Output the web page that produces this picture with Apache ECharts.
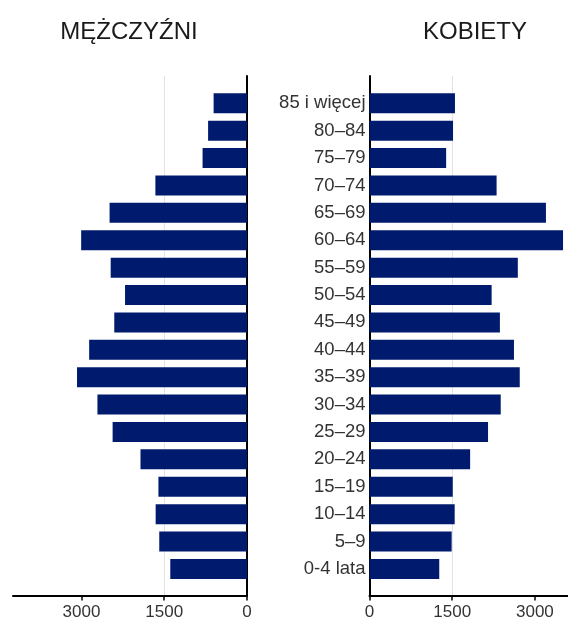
<!DOCTYPE html>
<html>
<head>
<meta charset="utf-8">
<script src="https://cdn.jsdelivr.net/npm/echarts@6/dist/echarts.min.js"></script>
<style>
html,body{margin:0;padding:0;background:#fff;}
#chart{width:568px;height:621px;}
</style>
</head>
<body>
<div id="chart"></div>
<script>
// Age groups, youngest first (bottom of the pyramid)
var ageGroups = ['0-4 lata','5–9','10–14','15–19','20–24','25–29','30–34','35–39','40–44','45–49','50–54','55–59','60–64','65–69','70–74','75–79','80–84','85 i więcej'];
var men   = [1390,1590,1655,1605,1930,2435,2710,3080,2860,2405,2210,2470,3005,2490,1660,805,705,605];
var women = [1265,1490,1545,1510,1825,2150,2380,2725,2620,2365,2215,2690,3510,3200,2305,1390,1515,1550];
var tickValues = [0,1500,3000];
var titles = ['MĘŻCZYŹNI','KOBIETY'];
var menMax = 4240, womenMax = 3600;

var barColor = '#001a6e';
var font = 'Liberation Sans, Arial, sans-serif';

var chart = echarts.init(document.getElementById('chart'), null, {renderer:'canvas'});

var axisX = function(gridIndex, max, inverse){
  return {
    type:'value', gridIndex:gridIndex, min:0, max:max, interval:1500, inverse:inverse,
    axisLine:{show:true, onZero:false, lineStyle:{color:'#000', width:2}},
    axisTick:{show:true, inside:false, length:5, customValues:tickValues, lineStyle:{color:'#000', width:1.5}},
    axisLabel:{show:true, customValues:tickValues, margin:8, fontSize:17, color:'#333', fontFamily:font,
               formatter:function(v){ return String(v); }},
    splitLine:{show:true, showMaxLine:false, showMinLine:false, lineStyle:{color:'#e3e3e3', width:1}}
  };
};
var hiddenX = function(gridIndex, max, inverse){
  return {type:'value', gridIndex:gridIndex, min:0, max:max, inverse:inverse, show:false};
};

var option = {
  backgroundColor:'#fff',
  animation:false,
  title:[
    {text:titles[0], left:124, top:15, textAlign:'center', textStyle:{fontSize:24, fontWeight:'normal', color:'#1a1a1a', fontFamily:font}},
    {text:titles[1], left:470, top:15, textAlign:'center', textStyle:{fontSize:24, fontWeight:'normal', color:'#1a1a1a', fontFamily:font}}
  ],
  grid:[
    {left:13, right:321, top:76, height:519.5},
    {left:369.5, right:0, top:76, height:519.5},
    {left:13, right:321, top:89.6, height:493},
    {left:369.5, right:0, top:89.6, height:493}
  ],
  xAxis:[
    axisX(0, menMax, true),
    axisX(1, womenMax, false),
    hiddenX(2, menMax, true),
    hiddenX(3, womenMax, false)
  ],
  yAxis:[
    {type:'value', gridIndex:0, min:0, max:1, position:'right',
     axisLine:{show:true, onZero:false, lineStyle:{color:'#000', width:2}},
     axisTick:{show:false}, axisLabel:{show:false}, splitLine:{show:false}},
    {type:'value', gridIndex:1, min:0, max:1, position:'left',
     axisLine:{show:true, onZero:false, lineStyle:{color:'#000', width:2}},
     axisTick:{show:false}, axisLabel:{show:false}, splitLine:{show:false}},
    {type:'category', gridIndex:2, data:ageGroups, position:'right',
     axisLine:{show:false}, axisTick:{show:false}, axisLabel:{show:false}, splitLine:{show:false}},
    {type:'category', gridIndex:3, data:ageGroups, position:'left',
     axisLine:{show:false}, axisTick:{show:false},
     axisLabel:{show:true, margin:4, fontSize:18.5, color:'#333', fontFamily:font},
     splitLine:{show:false}}
  ],
  series:[
    {name:titles[0], type:'bar', xAxisIndex:2, yAxisIndex:2, data:men, barWidth:20,
     itemStyle:{color:barColor}},
    {name:titles[1], type:'bar', xAxisIndex:3, yAxisIndex:3, data:women, barWidth:20,
     itemStyle:{color:barColor}}
  ]
};
chart.setOption(option);
</script>
</body>
</html>
